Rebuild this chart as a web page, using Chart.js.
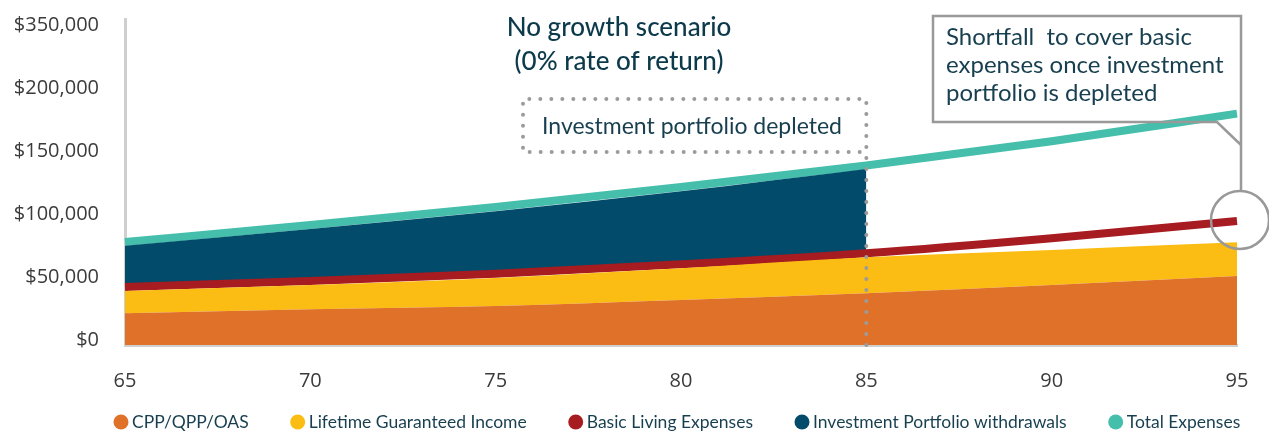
<!DOCTYPE html>
<html>
<head>
<meta charset="utf-8">
<script src="https://cdn.jsdelivr.net/npm/chart.js@4"></script>
<style>
  html, body { margin: 0; padding: 0; background: #fff; }
  #wrap { width: 1269px; height: 432px; }
</style>
</head>
<body>
<div id="wrap"><canvas id="chart"></canvas></div>
<script>
// Alter (x-Achse)
const ages = ['65', '70', '75', '80', '85', '90', '95'];

// Werte in $ pro Jahr
const cppQppOas = [25100, 28300, 31000, 35700, 41000, 47600, 54800];
const lifetimeIncome = [17800, 19300, 22200, 25200, 28600, 27800, 26700];
const basicExpenses = [46000, 50800, 56600, 64000, 72800, 84700, 98400];
const portfolioWithdrawals = [32800, 41200, 49500, 58000, 66900, null, null];
const totalExpenses = [81700, 95200, 109500, 125400, 142500, 161700, 183600];

// y-Achse: Werte und Beschriftungen (oberste Beschriftung so wie im Original)
const yTickValues = [0, 50000, 100000, 150000, 200000, 250000];
const yTickLabels = ['$0', '$50,000', '$100,000', '$150,000', '$200,000', '$350,000'];

const darkText = '#173f4f';
const dotGrey = '#9b9b9b';

// Beschriftungen im Diagramm
const annotations = {
  id: 'annotations',
  afterDatasetsDraw(chart) {
    const { ctx, scales: { x, y } } = chart;
    const x85 = x.getPixelForValue(4);
    const bottom = y.getPixelForValue(0);
    ctx.save();

    // Titel
    ctx.fillStyle = '#0c3a4a';
    ctx.textAlign = 'center';
    ctx.textBaseline = 'middle';
    ctx.font = '500 26px Lato';
    ctx.fillText('No growth scenario', 619, 28);
    ctx.fillText('(0% rate of return)', 619, 62);

    // gepunkteter Kasten + Linie bei 85
    ctx.strokeStyle = dotGrey;
    ctx.lineWidth = 4;
    ctx.lineCap = 'round';
    ctx.setLineDash([0, 11]);
    ctx.beginPath();
    ctx.moveTo(x85, bottom);
    ctx.lineTo(x85, 99);
    ctx.lineTo(523, 99);
    ctx.lineTo(523, 152);
    ctx.lineTo(x85, 152);
    ctx.stroke();
    ctx.setLineDash([]);

    ctx.fillStyle = darkText;
    ctx.font = '23px Lato';
    ctx.fillText('Investment portfolio depleted', 692, 127);

    // Callout rechts
    ctx.strokeStyle = '#999';
    ctx.lineWidth = 2.5;
    ctx.lineCap = 'butt';
    ctx.beginPath();
    ctx.moveTo(1241, 191);
    ctx.lineTo(1241, 16);
    ctx.lineTo(933, 16);
    ctx.lineTo(933, 122);
    ctx.lineTo(1217, 122);
    ctx.lineTo(1241, 145);
    ctx.stroke();
    ctx.beginPath();
    ctx.arc(1240, 220, 29, 0, Math.PI * 2);
    ctx.stroke();

    ctx.textAlign = 'left';
    ctx.font = '24px Lato';
    ctx.fillText('Shortfall  to cover basic', 946, 37);
    ctx.fillText('expenses once investment', 946, 65);
    ctx.fillText('portfolio is depleted', 946, 93);
    ctx.restore();
  }
};

// Legende unten, selbst gezeichnet (Abstände wie im Original)
const bottomLegend = {
  id: 'bottomLegend',
  afterDraw(chart) {
    const { ctx } = chart;
    const cy = 422;
    let lx = 113;
    ctx.save();
    ctx.font = '17.5px Lato';
    ctx.textBaseline = 'middle';
    ctx.textAlign = 'left';
    chart.data.datasets.forEach(ds => {
      ctx.fillStyle = ds.backgroundColor;
      ctx.beginPath();
      ctx.arc(lx + 8, cy, 7.5, 0, Math.PI * 2);
      ctx.fill();
      ctx.fillStyle = darkText;
      ctx.fillText(ds.label, lx + 19, cy);
      lx += 19 + ctx.measureText(ds.label).width + 41;
    });
    ctx.restore();
  }
};

new Chart(document.getElementById('chart'), {
  type: 'line',
  data: {
    labels: ages,
    datasets: [
      {
        label: 'CPP/QPP/OAS',
        data: cppQppOas,
        stack: 'income',
        backgroundColor: '#e07128',
        borderColor: '#e07128',
        borderWidth: 0,
        fill: 'origin'
      },
      {
        label: 'Lifetime Guaranteed Income',
        data: lifetimeIncome,
        stack: 'income',
        backgroundColor: '#fbbd13',
        borderColor: '#fbbd13',
        borderWidth: 0,
        fill: '-1'
      },
      {
        label: 'Basic Living Expenses',
        data: basicExpenses,
        stack: 'expenses',
        backgroundColor: '#a71c21',
        borderColor: '#a71c21',
        borderWidth: 8,
        fill: false
      },
      {
        label: 'Investment Portfolio withdrawals',
        data: portfolioWithdrawals,
        stack: 'expenses',
        backgroundColor: '#024b6a',
        borderColor: '#024b6a',
        borderWidth: 0,
        fill: '-1'
      },
      {
        label: 'Total Expenses',
        data: totalExpenses,
        stack: 'total',
        backgroundColor: '#45bfab',
        borderColor: '#45bfab',
        borderWidth: 8,
        fill: false
      }
    ]
  },
  options: {
    responsive: true,
    maintainAspectRatio: false,
    animation: false,
    elements: {
      point: { radius: 0, hoverRadius: 0 },
      line: { cubicInterpolationMode: 'monotone' }
    },
    layout: {
      padding: { top: 19, right: 32, left: 0, bottom: 43 }
    },
    scales: {
      x: {
        grid: { display: false, drawTicks: false },
        border: { display: true, color: '#cfcfcf', width: 3 },
        ticks: {
          color: '#3b3b3b',
          padding: 24,
          maxRotation: 0,
          font: { family: 'Open Sans', size: 20 }
        },
        afterFit(scale) {
          scale.height = 44;
          scale.paddingLeft = 0;
          scale.paddingRight = 0;
        }
      },
      y: {
        stacked: true,
        min: 0,
        max: 258700,
        grid: { display: false, drawTicks: false },
        border: { display: true, color: '#cfcfcf', width: 3 },
        afterBuildTicks(axis) {
          axis.ticks = yTickValues.map(v => ({ value: v }));
        },
        ticks: {
          color: '#3b3b3b',
          padding: 26,
          labelOffset: -5,
          font: { family: 'Open Sans', size: 20 },
          callback: (value) => yTickLabels[yTickValues.indexOf(value)]
        },
        afterFit(scale) {
          scale.width = 125;
          scale.paddingTop = 0;
          scale.paddingBottom = 0;
        }
      }
    },
    plugins: {
      tooltip: { enabled: false },
      legend: { display: false }
    }
  },
  plugins: [annotations, bottomLegend]
});
</script>
</body>
</html>
